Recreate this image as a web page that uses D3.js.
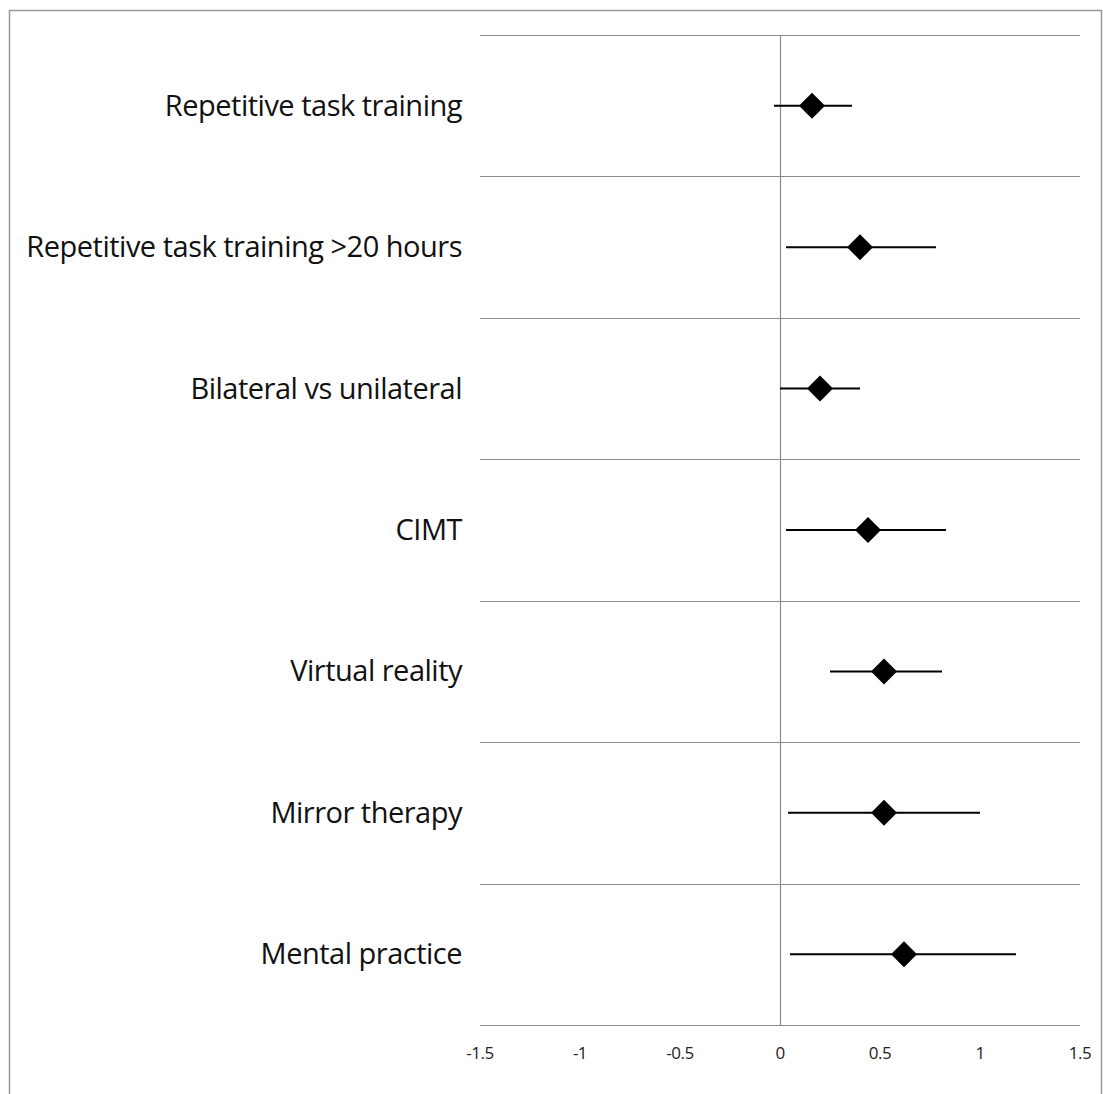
<!DOCTYPE html>
<html>
<head>
<meta charset="utf-8">
<script src="https://cdn.jsdelivr.net/npm/d3@7"></script>
<style>
  body { margin: 0; background: #fff; }
  .label { font-family: "Open Sans", "Noto Sans", sans-serif; fill: #111; }
  .tick-label { font-family: "Open Sans", "Noto Sans", sans-serif; fill: #222; }
</style>
</head>
<body>
<div id="chart"></div>
<script>
const categories = [
  'Repetitive task training',
  'Repetitive task training >20 hours',
  'Bilateral vs unilateral',
  'CIMT',
  'Virtual reality',
  'Mirror therapy',
  'Mental practice'
];
const estimates = [0.16, 0.40, 0.20, 0.44, 0.52, 0.52, 0.62];
const lowerCI = [-0.03, 0.03, 0.00, 0.03, 0.25, 0.04, 0.05];
const upperCI = [0.36, 0.78, 0.40, 0.83, 0.81, 1.00, 1.18];
const tickValues = [-1.5, -1, -0.5, 0, 0.5, 1, 1.5];

const width = 1103, height = 1094;
const svg = d3.select('#chart').append('svg')
    .attr('width', width)
    .attr('height', height);

// outer border
svg.append('rect')
    .attr('x', 9.5).attr('y', 10.5)
    .attr('width', width - 11).attr('height', height)
    .attr('fill', 'none')
    .attr('stroke', '#999')
    .attr('stroke-width', 1.5);

const x = d3.scaleLinear().domain([-1.5, 1.5]).range([480, 1080]);
const y = d3.scaleBand().domain(categories).range([35, 1025]);

// horizontal separators (band edges)
const edges = categories.map(c => y(c)).concat([y.range()[1]]);
svg.append('g').selectAll('line')
    .data(edges)
  .join('line')
    .attr('x1', x.range()[0]).attr('x2', x.range()[1])
    .attr('y1', d => Math.round(d) + 0.5).attr('y2', d => Math.round(d) + 0.5)
    .attr('stroke', '#8c8c8c')
    .attr('stroke-width', 1.2);

// zero line
svg.append('line')
    .attr('x1', Math.round(x(0)) + 0.5).attr('x2', Math.round(x(0)) + 0.5)
    .attr('y1', y.range()[0]).attr('y2', y.range()[1])
    .attr('stroke', '#8c8c8c')
    .attr('stroke-width', 1.2);

// x axis tick labels
svg.append('g').selectAll('text')
    .data(tickValues)
  .join('text')
    .attr('class', 'tick-label')
    .attr('x', d => x(d))
    .attr('y', 1059)
    .attr('text-anchor', 'middle')
    .attr('font-size', 17)
    .attr('letter-spacing', -0.5)
    .text(d => d);

// category labels
svg.append('g').selectAll('text')
    .data(categories)
  .join('text')
    .attr('class', 'label')
    .attr('x', 462)
    .attr('y', d => y(d) + y.bandwidth() / 2 + 10)
    .attr('text-anchor', 'end')
    .attr('font-size', 29)
    .attr('letter-spacing', -0.5)
    .text(d => d);

const rows = categories.map((c, i) => ({cat: c, est: estimates[i], lo: lowerCI[i], hi: upperCI[i]}));

// confidence intervals
svg.append('g').selectAll('line')
    .data(rows)
  .join('line')
    .attr('x1', d => x(d.lo)).attr('x2', d => x(d.hi))
    .attr('y1', d => y(d.cat) + y.bandwidth() / 2)
    .attr('y2', d => y(d.cat) + y.bandwidth() / 2)
    .attr('stroke', '#000')
    .attr('stroke-width', 2);

// diamonds
const s = 13;
svg.append('g').selectAll('path')
    .data(rows)
  .join('path')
    .attr('transform', d => `translate(${x(d.est)},${y(d.cat) + y.bandwidth() / 2})`)
    .attr('d', `M0,${-s}L${s},0L0,${s}L${-s},0Z`)
    .attr('fill', '#000');
</script>
</body>
</html>
